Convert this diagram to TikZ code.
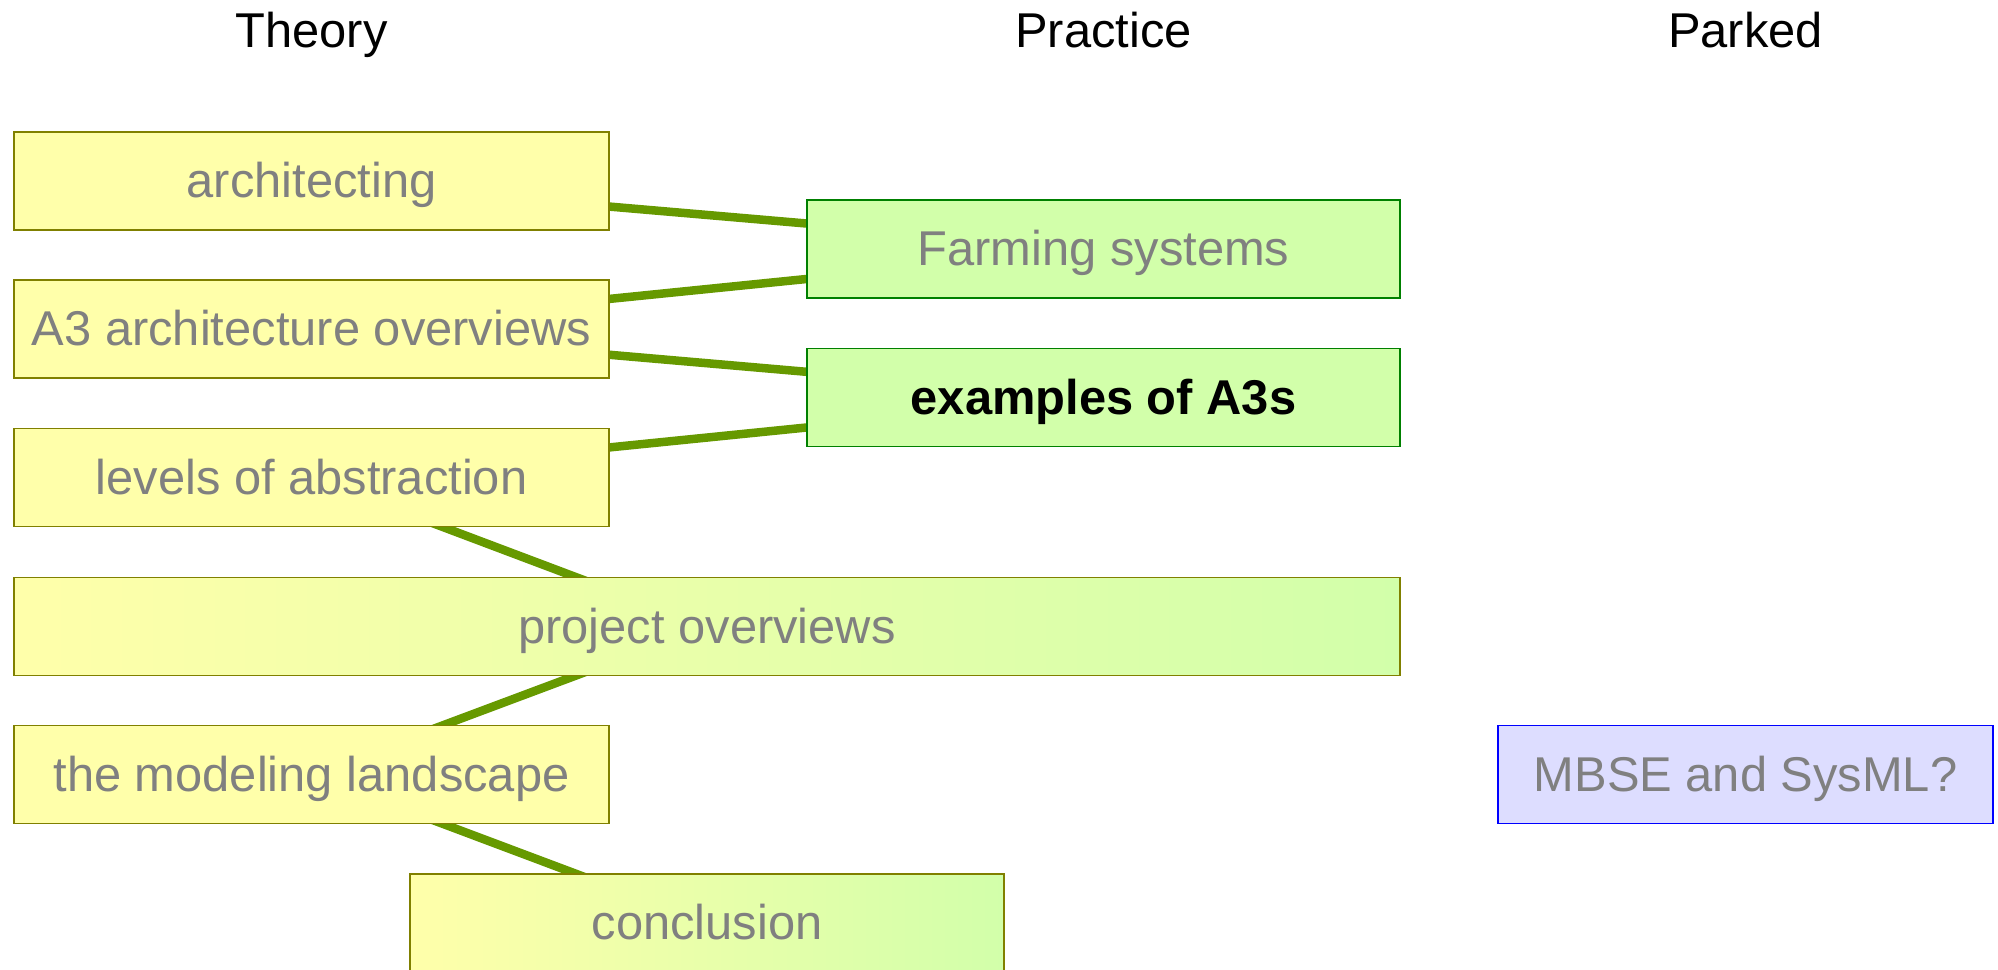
\documentclass[tikz,border=0pt]{standalone}
\usepackage{fontspec}
\setmainfont{Liberation Sans}
\usetikzlibrary{backgrounds}
\definecolor{theoryfill}{HTML}{FFFFAA}
\definecolor{theoryline}{HTML}{808000}
\definecolor{practicefill}{HTML}{D2FFAA}
\definecolor{practiceline}{HTML}{008000}
\definecolor{parkedfill}{HTML}{DDDDFF}
\definecolor{parkedline}{HTML}{0000FF}
\definecolor{linkgreen}{HTML}{669900}
\definecolor{boxtext}{HTML}{808080}
\begin{document}
\begin{tikzpicture}[font=\fontsize{13.9pt}{16pt}\selectfont,
  box/.style={draw, line width=0.015cm, inner sep=0pt, minimum height=0.98cm,
    text height=12.6pt, text depth=2.95pt, text=boxtext},
  theorybox/.style={box, draw=theoryline, fill=theoryfill, minimum width=5.95cm},
  practicebox/.style={box, draw=practiceline, fill=practicefill, minimum width=5.93cm},
  parkedbox/.style={box, draw=parkedline, fill=parkedfill, minimum width=4.95cm},
  mixbox/.style={box, draw=theoryline, left color=theoryfill, right color=practicefill},
  link/.style={draw=linkgreen, line width=0.085cm},
  heading/.style={anchor=base, text=black}]
\useasboundingbox (0,0) rectangle (19.98,9.69);

%--- HEADINGS ---
\node[heading] (theory) at (3.115,9.21) {Theory};
\node[heading] (practice) at (11.035,9.21) {Practice};
\node[heading] (parked) at (17.455,9.21) {Parked};

%--- THEORY ---
\node[theorybox] (arch) at (3.115,7.88) {architecting};
\node[theorybox] (overview) at (3.115,6.40) {A3 architecture overviews};
\node[theorybox] (levels) at (3.115,4.915) {levels of abstraction};
\node[theorybox] (modeling) at (3.115,1.945) {the modeling landscape};

%--- BOTH ---
\node[mixbox, minimum width=13.86cm] (project) at (7.07,3.425) {project overviews};
\node[mixbox, minimum width=5.94cm] (conclusion) at (7.07,0.46) {conclusion};

%--- PRACTICE ---
\node[practicebox] (farming) at (11.035,7.20) {Farming systems};
\node[practicebox, text=black, font=\fontsize{13.9pt}{16pt}\selectfont\bfseries] (examples) at (11.035,5.715) {examples of A3s};

%--- PARKED ---
\node[parkedbox] (mbse) at (17.455,1.945) {MBSE and SysML?};

%--- LINKS (behind the boxes) ---
\begin{scope}[on background layer]
\draw[link] (arch.center) -- (farming.center);
\draw[link] (overview.center) -- (farming.center);
\draw[link] (overview.center) -- (examples.center);
\draw[link] (levels.center) -- (examples.center);
\draw[link] (levels.center) -- (project.center);
\draw[link] (project.center) -- (modeling.center);
\draw[link] (modeling.center) -- (conclusion.center);
\end{scope}
\end{tikzpicture}
\end{document}
